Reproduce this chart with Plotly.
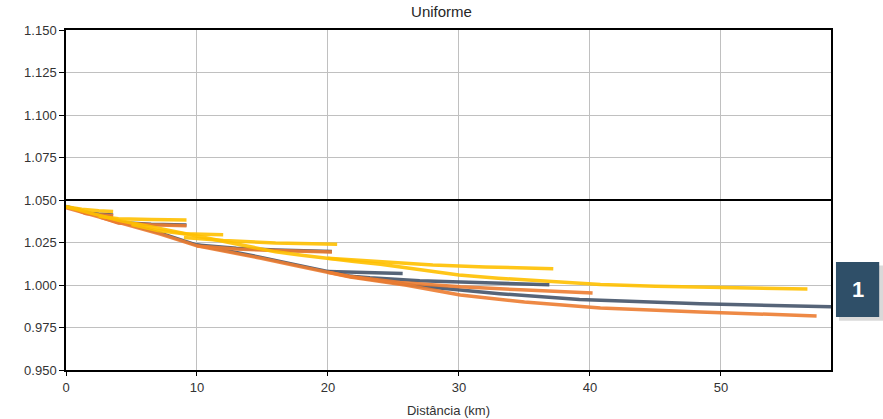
import plotly.graph_objects as go

# ---------------- data (distance km, voltage pu) ----------------
# Yellow series
yel_trunk_x = [0, 2, 4, 6, 8, 10, 12, 14, 16, 18, 20, 22, 24, 26, 28, 30, 33, 36, 40.8, 45, 50, 54, 56.6]
yel_trunk_y = [1.046, 1.042, 1.038, 1.035, 1.032, 1.029, 1.026, 1.0225, 1.0195, 1.0175, 1.0155, 1.0138, 1.0122, 1.0102, 1.0082, 1.0059, 1.0040, 1.0025, 1.0003, 0.9992, 0.9984, 0.9979, 0.9976]
yel_a_x = [0, 1.2, 2.5, 3.6]
yel_a_y = [1.046, 1.0445, 1.0437, 1.0433]
yel_b_x = [2.5, 4, 6.5, 9.2]
yel_b_y = [1.0405, 1.0390, 1.0385, 1.0383]
yel_c_x = [5, 7, 9, 12]
yel_c_y = [1.0355, 1.0320, 1.0302, 1.0296]
yel_d_x = [9, 12, 16, 20.7]
yel_d_y = [1.0280, 1.0262, 1.0247, 1.0240]
yel_e_x = [20, 24, 28, 32, 37.2]
yel_e_y = [1.0158, 1.0138, 1.0118, 1.0106, 1.0096]

# Navy series
nav_trunk_x = [0, 2.6, 4.9, 7.2, 10, 12.5, 14.8, 17.5, 20, 21.7, 26.7, 33.1, 39.2, 48.4, 58.4]
nav_trunk_y = [1.0462, 1.0405, 1.0358, 1.0305, 1.0235, 1.0200, 1.0164, 1.0120, 1.0080, 1.0052, 0.9996, 0.9949, 0.9914, 0.9890, 0.9872]
nav_b1_x = [0.8, 1.5, 2.5, 3.6]
nav_b1_y = [1.0448, 1.0424, 1.0417, 1.0412]
nav_b2_x = [2.6, 4, 6.5, 9.2]
nav_b2_y = [1.0405, 1.0368, 1.0358, 1.0353]
nav_b3_x = [10, 13, 16, 20.3]
nav_b3_y = [1.0235, 1.0216, 1.0206, 1.0197]
nav_short_x = [20, 22, 25.7]
nav_short_y = [1.0080, 1.0076, 1.0068]
nav_mid_x = [21.7, 23.2, 27, 31.6, 36.9]
nav_mid_y = [1.0052, 1.0042, 1.0025, 1.0013, 1.0001]

# Orange series
ora_trunk_x = [0, 2.6, 4.9, 7.2, 10, 12.5, 14.8, 17.5, 20, 21.7, 26, 30.1, 35, 40.8, 48.4, 53, 57.3]
ora_trunk_y = [1.0455, 1.0400, 1.0353, 1.0300, 1.0230, 1.0195, 1.0159, 1.0115, 1.0075, 1.0047, 0.9998, 0.9941, 0.9900, 0.9865, 0.9841, 0.9828, 0.9818]
ora_b1_x = [0.8, 1.5, 2.5, 3.6]
ora_b1_y = [1.0443, 1.0420, 1.0413, 1.0408]
ora_b2_x = [2.6, 4, 6.5, 9.2]
ora_b2_y = [1.0400, 1.0364, 1.0354, 1.0349]
ora_b3_x = [10, 13, 16, 20.3]
ora_b3_y = [1.0230, 1.0212, 1.0203, 1.0194]
ora_mid_x = [20, 21.7, 25.5, 30.1, 34.7, 40.2]
ora_mid_y = [1.0075, 1.0050, 1.0015, 0.9989, 0.9972, 0.9953]

x_ticks = [0, 10, 20, 30, 40, 50]
y_ticks = [0.950, 0.975, 1.000, 1.025, 1.050, 1.075, 1.100, 1.125, 1.150]
y_limit = 1.050

YEL = "#FFC000"
NAV = "#44546A"
ORA = "#ED7D31"

series = [
    (NAV, [(nav_trunk_x, nav_trunk_y), (nav_b1_x, nav_b1_y), (nav_b2_x, nav_b2_y),
           (nav_b3_x, nav_b3_y), (nav_short_x, nav_short_y), (nav_mid_x, nav_mid_y)]),
    (ORA, [(ora_trunk_x, ora_trunk_y), (ora_b1_x, ora_b1_y), (ora_b2_x, ora_b2_y),
           (ora_b3_x, ora_b3_y), (ora_mid_x, ora_mid_y)]),
    (YEL, [(yel_trunk_x, yel_trunk_y), (yel_a_x, yel_a_y), (yel_b_x, yel_b_y),
           (yel_c_x, yel_c_y), (yel_d_x, yel_d_y), (yel_e_x, yel_e_y)]),
]

fig = go.Figure()
for color, branches in series:
    for bx, by in branches:
        fig.add_trace(go.Scatter(x=bx, y=by, mode="lines",
                                 line=dict(color=color, width=3.5),
                                 opacity=0.9, showlegend=False, hoverinfo="skip"))

fig.add_shape(type="line", xref="paper", x0=0, x1=1, yref="y", y0=y_limit, y1=y_limit,
              line=dict(color="black", width=2))

# badge
fig.add_shape(type="rect", xref="paper", yref="paper",
              x0=1.0105, x1=1.068, y0=0.145, y1=0.307,
              fillcolor="rgba(0,0,0,0.15)", line=dict(width=0), layer="above")
fig.add_shape(type="rect", xref="paper", yref="paper",
              x0=1.0065, x1=1.063, y0=0.156, y1=0.318,
              fillcolor="#2F4F68", line=dict(width=0), layer="above")
fig.add_annotation(text="<b>1</b>", xref="paper", yref="paper", x=1.035, y=0.237,
                   xanchor="center", yanchor="middle",
                   showarrow=False, font=dict(color="white", size=22, family="Liberation Sans"))

tick_font = dict(family="Liberation Sans", size=13, color="#333333")
fig.update_layout(
    width=883, height=419,
    margin=dict(l=66, r=52, t=30, b=49, autoexpand=False),
    paper_bgcolor="white", plot_bgcolor="white",
    title=dict(text="Uniforme", x=0.5, xanchor="center", y=0.985, yanchor="top",
               font=dict(family="Liberation Sans", size=15, color="#262626")),
    xaxis=dict(range=[0, 58.4], tickvals=x_ticks, ticktext=[str(t) for t in x_ticks],
               showgrid=True, gridcolor="#C0C0C0", gridwidth=1,
               showline=True, linecolor="black", linewidth=2, mirror=True,
               ticks="outside", ticklen=4, tickcolor="black", tickfont=tick_font,
               automargin=False,
               title=dict(text="Distância (km)", font=dict(family="Liberation Sans", size=13, color="#333333"), standoff=12),
               zeroline=False),
    yaxis=dict(range=[0.95, 1.15], tickvals=y_ticks, ticktext=[f"{t:.3f}" for t in y_ticks],
               showgrid=True, gridcolor="#C0C0C0", gridwidth=1,
               showline=True, linecolor="black", linewidth=1.5, mirror=True,
               ticks="outside", ticklen=5, tickcolor="black", tickfont=tick_font,
               automargin=False, zeroline=False),
)

fig.write_html("out.html", config={"displayModeBar": False},
               post_script="document.body.style.margin='0';")
